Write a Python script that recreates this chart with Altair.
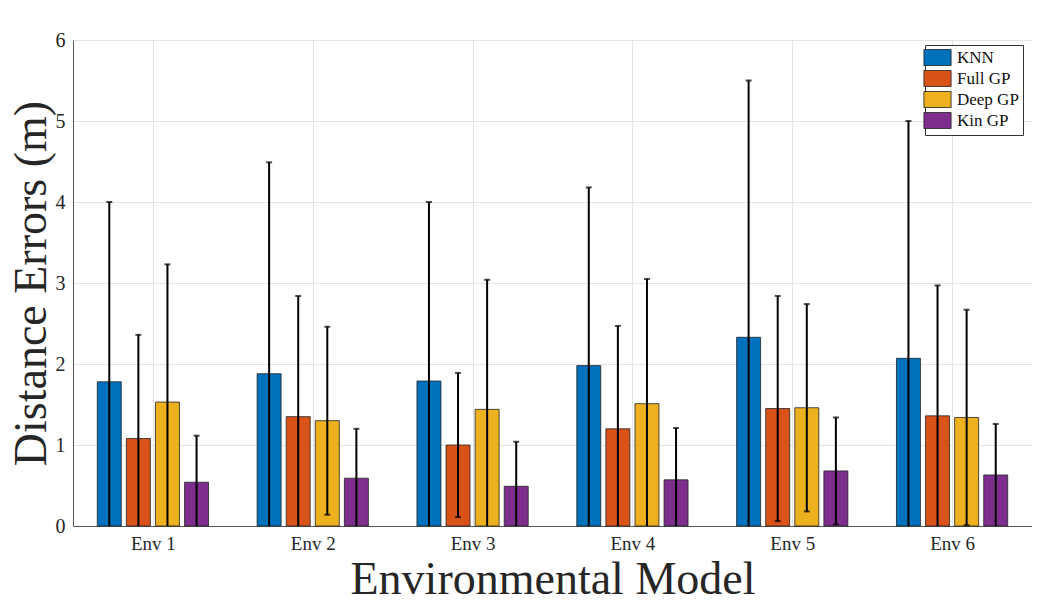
import altair as alt
import pandas as pd

envs = ["Env 1", "Env 2", "Env 3", "Env 4", "Env 5", "Env 6"]
methods = ["KNN", "Full GP", "Deep GP", "Kin GP"]
colors = ["#0072BD", "#D95319", "#EDB120", "#7E2F8E"]

knn_mean = [1.78, 1.88, 1.79, 1.98, 2.33, 2.07]
knn_err = [2.22, 2.61, 2.21, 2.20, 3.17, 2.93]
full_mean = [1.08, 1.35, 1.00, 1.20, 1.45, 1.36]
full_err = [1.28, 1.49, 0.89, 1.27, 1.39, 1.61]
deep_mean = [1.53, 1.30, 1.44, 1.51, 1.46, 1.34]
deep_err = [1.70, 1.16, 1.60, 1.54, 1.28, 1.33]
kin_mean = [0.54, 0.59, 0.49, 0.57, 0.68, 0.63]
kin_err = [0.575, 0.61, 0.55, 0.64, 0.66, 0.63]

means = [knn_mean, full_mean, deep_mean, kin_mean]
errs = [knn_err, full_err, deep_err, kin_err]

rows = []
for m_i, m in enumerate(methods):
    for e_i, e in enumerate(envs):
        rows.append({"env": e, "idx": e_i + 1, "method": m, "mi": m_i,
                     "mean": means[m_i][e_i], "err": errs[m_i][e_i]})
df = pd.DataFrame(rows)

FONT = "Liberation Serif"
label_expr = "[" + ",".join("'%s'" % e for e in envs) + "][datum.value - 1]"

base = alt.Chart(df).transform_calculate(
    xc="datum.idx + (datum.mi - 1.5) * 0.182",
    xl="datum.idx + (datum.mi - 1.5) * 0.182 - 0.075",
    xr="datum.idx + (datum.mi - 1.5) * 0.182 + 0.075",
    lo="max(datum.mean - datum.err, 0)",
    lo_raw="datum.mean - datum.err",
    hi="datum.mean + datum.err",
)

xscale = alt.Scale(domain=[0.5, 6.5], nice=False, zero=False)
yscale = alt.Scale(domain=[0, 6], nice=False)

bars = base.mark_bar(stroke="#222222", strokeWidth=0.8).encode(
    x=alt.X("xl:Q", scale=xscale,
            axis=alt.Axis(values=[1, 2, 3, 4, 5, 6], labelExpr=label_expr,
                          title="Environmental Model", titleFontSize=46,
                          titleFontWeight="normal", titleX=479.5, titleY=67,
                          titleBaseline="alphabetic", titleAlign="center",
                          labelPadding=8, labelFontSize=19, tickSize=0, grid=True)),
    x2="xr:Q",
    y=alt.Y("mean:Q", scale=yscale,
            axis=alt.Axis(values=[0, 1, 2, 3, 4, 5, 6], format="d",
                          title="Distance Errors (m)",
                          titleFontSize=46, titleFontWeight="normal",
                          titleX=-28, titleY=243, titleAngle=270,
                          titleBaseline="alphabetic", titleAlign="center",
                          labelPadding=8, labelFontSize=20, tickSize=0, grid=True)),
    y2=alt.datum(0),
    color=alt.Color("method:N", sort=methods,
                    scale=alt.Scale(domain=methods, range=colors),
                    legend=alt.Legend(title=None, orient="none", legendX=852, legendY=5,
                                      symbolType="M-1.7,-1H1.7V1H-1.7Z", symbolSize=256,
                                      symbolStrokeColor="#222222", symbolStrokeWidth=0.8,
                                      symbolOpacity=1, labelFont=FONT, labelFontSize=17,
                                      labelColor="#111111", labelOffset=11,
                                      strokeColor="#333333", fillColor="white",
                                      padding=4, rowPadding=0)),
)

rules = base.mark_rule(color="black", strokeWidth=2).encode(
    x="xc:Q", y="lo:Q", y2="hi:Q"
)

caps_hi = base.mark_tick(color="black", orient="horizontal", size=6, thickness=2).encode(
    x="xc:Q", y="hi:Q"
)
caps_lo = base.transform_filter("datum.lo_raw > 0").mark_tick(
    color="black", orient="horizontal", size=6, thickness=2).encode(
    x="xc:Q", y="lo:Q"
)

chart = alt.layer(bars, rules, caps_hi, caps_lo).properties(
    width=959, height=486,
    autosize=alt.AutoSizeParams(type="none"),
    padding={"left": 65, "top": 32, "right": 0, "bottom": 68},
).configure_view(stroke=None).configure_axis(
    labelFont=FONT, titleFont=FONT, labelColor="#262626",
    titleColor="#262626", domainColor="#555555", domainWidth=1,
    gridColor="#e3e3e3", gridWidth=1,
)

chart.save("out.html", embed_options={"renderer": "svg", "actions": False})
